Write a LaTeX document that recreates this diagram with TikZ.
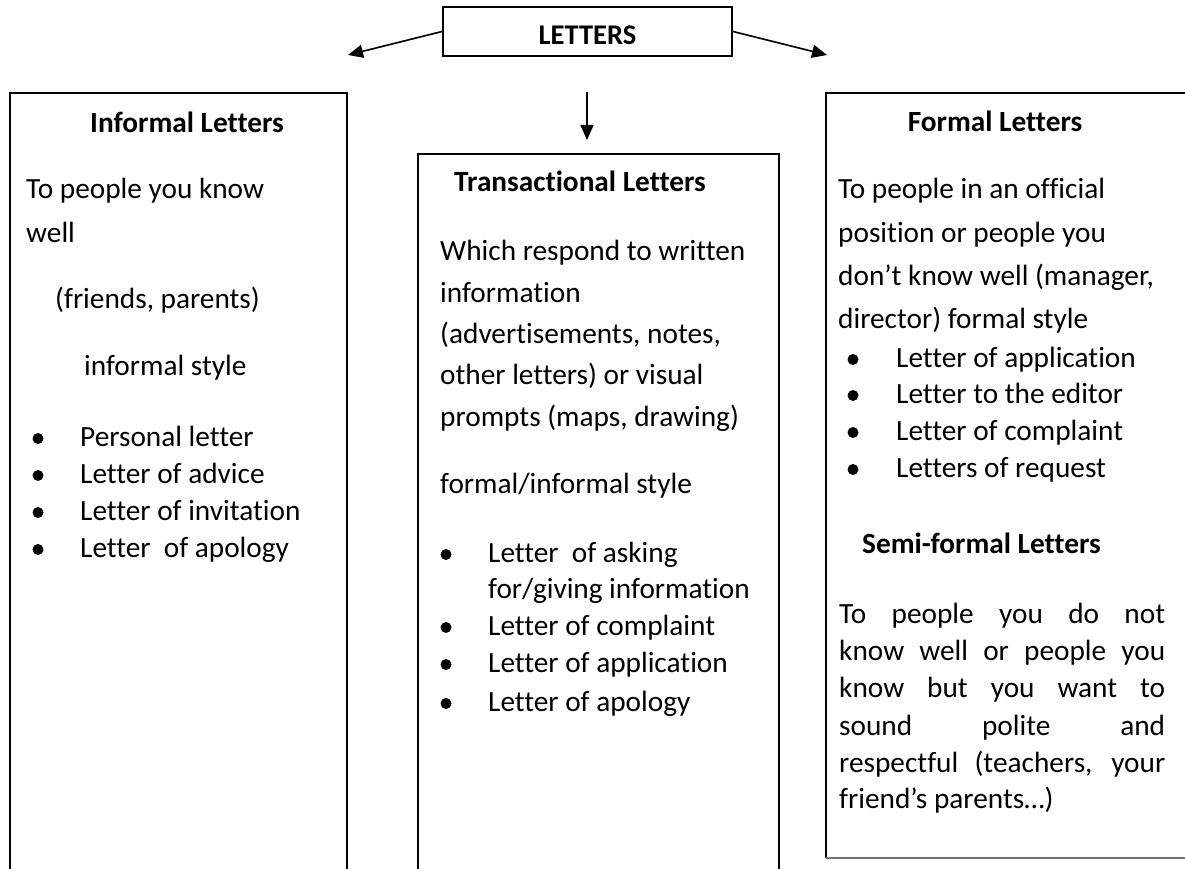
\documentclass[tikz,border=0pt]{standalone}
\usepackage{fontspec}
\setmainfont{Carlito}[Ligatures=NoCommon]
\usetikzlibrary{arrows.meta}
\begin{document}
\begin{tikzpicture}[x=1pt,y=-1pt,
  txt/.style={anchor=base west, inner sep=0pt, font=\fontsize{29.3}{37}\selectfont},
  hd/.style={anchor=base, inner sep=0pt, font=\fontsize{29.3}{37}\selectfont\bfseries},
  hdw/.style={anchor=base west, inner sep=0pt, font=\fontsize{29.3}{37}\selectfont\bfseries},
  bul/.style={circle, fill=black, inner sep=0pt, minimum size=11pt},
  frame/.style={line width=2pt},
  arr/.style={line width=1.6pt, -{Triangle[length=15pt,width=13pt]}}]
\useasboundingbox (0,0) rectangle (1185,869);
\clip (0,0) rectangle (1185,869);
% top box
\node[draw, frame, minimum width=289pt, minimum height=49pt, inner sep=0pt,
      text height=27pt, text depth=0pt, font=\fontsize{28.5}{34}\selectfont\bfseries] (letters) at (587.5,31.5) {LETTERS};
\coordinate (tipL) at (348,55);
\coordinate (tipR) at (827,55);
\coordinate (dtop) at (587,92);
\coordinate (dtip) at (587,140);
\draw[arr] (letters.west) -- (tipL);
\draw[arr] (letters.east) -- (tipR);
\draw[arr] (dtop) -- (dtip);
% boxes
\draw[frame] (10,900) -- (10,93) -- (347,93) -- (347,900);
\draw[frame] (418,900) -- (418,154) -- (779,154) -- (779,900);
\draw[frame] (1200,93) -- (826,93) -- (826,858);
\draw[line width=1.6pt, black!55] (826,858) -- (1200,858);
% left box
\node[hd] (h1) at (187,133) {Informal Letters};
\node[txt] (l1) at (26,198) {To people you know};
\node[txt] (l2) at (26,242) {well};
\node[txt] (l3) at (55,308) {(friends, parents)};
\node[txt] (l4) at (84,375) {informal style};
\node[bul] (lb1) at (38,438.5) {};
\node[bul] (lb2) at (38,475.5) {};
\node[bul] (lb3) at (38,512.5) {};
\node[bul] (lb4) at (38,549.5) {};
\node[txt] (l5) at (80,446) {Personal letter};
\node[txt] (l6) at (80,483) {Letter of advice};
\node[txt] (l7) at (80,520) {Letter of invitation};
\node[txt] (l8) at (80,557) {Letter\ \ of apology};
% middle box
\node[hd] (h2) at (580,191) {Transactional Letters};
\node[txt] (m1) at (440,260) {Which respond to written};
\node[txt] (m2) at (440,302) {information};
\node[txt] (m3) at (440,343) {(advertisements, notes,};
\node[txt] (m4) at (440,384) {other letters) or visual};
\node[txt] (m5) at (440,426) {prompts (maps, drawing)};
\node[txt] (m6) at (440,493) {formal/informal style};
\node[bul] (mb1) at (446,554.5) {};
\node[bul] (mb2) at (446,627.5) {};
\node[bul] (mb3) at (446,664.5) {};
\node[bul] (mb4) at (446,703.5) {};
\node[txt] (m7) at (488,562) {Letter\ \ of asking};
\node[txt] (m8) at (488,598) {for/giving information};
\node[txt] (m9) at (488,635) {Letter of complaint};
\node[txt] (m10) at (488,672) {Letter of application};
\node[txt] (m11) at (488,711) {Letter of apology};
% right box
\node[hd] (h3) at (995,132) {Formal Letters};
\node[txt] (r1) at (838,198) {To people in an official};
\node[txt] (r2) at (838,242) {position or people you};
\node[txt] (r3) at (838,285) {don’t know well (manager,};
\node[txt] (r4) at (838,328) {director) formal style};
\node[bul] (rb1) at (853,359.5) {};
\node[bul] (rb2) at (853,395.5) {};
\node[bul] (rb3) at (853,432.5) {};
\node[bul] (rb4) at (853,469.5) {};
\node[txt] (r5) at (896,367) {Letter of application};
\node[txt] (r6) at (896,403) {Letter to the editor};
\node[txt] (r7) at (896,440) {Letter of complaint};
\node[txt] (r8) at (896,477) {Letters of request};
\node[hdw] (h4) at (862,553) {Semi-formal Letters};
\node[txt] (s1) at (839,623) {\makebox[326pt][s]{To people you do not}};
\node[txt] (s2) at (839,660) {\makebox[326pt][s]{know well or people you}};
\node[txt] (s3) at (839,697) {\makebox[326pt][s]{know but you want to}};
\node[txt] (s4) at (839,735) {\makebox[326pt][s]{sound polite and}};
\node[txt] (s5) at (839,772) {\makebox[326pt][s]{respectful (teachers, your}};
\node[txt] (s6) at (839,808) {friend’s parents…)};
\end{tikzpicture}
\end{document}
